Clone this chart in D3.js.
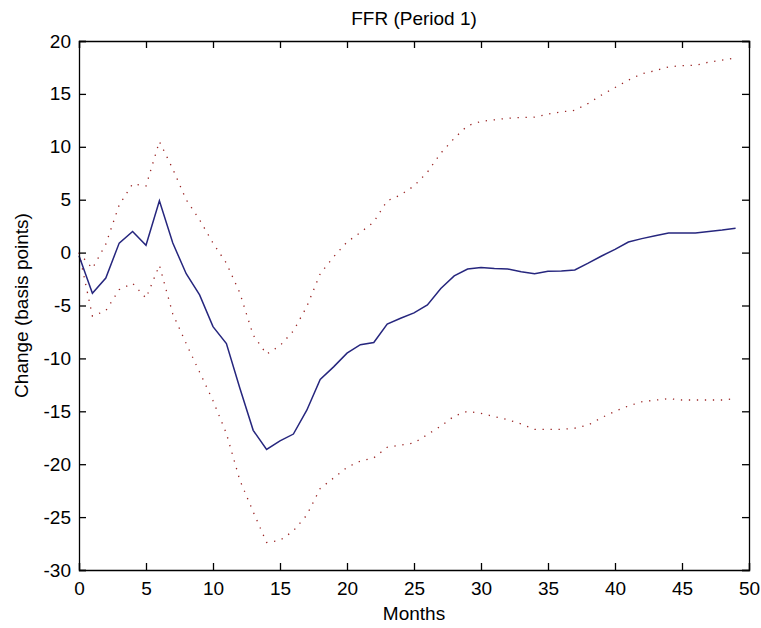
<!DOCTYPE html>
<html>
<head>
<meta charset="utf-8">
<script src="https://cdn.jsdelivr.net/npm/d3@7"></script>
<style>
  body { margin: 0; background: #fff; }
  svg text { font-family: "Liberation Sans", Arial, sans-serif; fill: #000; }
</style>
</head>
<body>
<div id="chart"></div>
<script>
// FFR impulse response, period 1

var months = d3.range(0, 50);

var response = [-0.3, -3.85, -2.4, 0.9, 2.0, 0.7, 4.9, 0.9, -2.0, -4.0,
    -7.0, -8.6, -12.8, -16.8, -18.6, -17.8, -17.15, -14.9, -12.0, -10.8,
    -9.5, -8.7, -8.5, -6.75, -6.2, -5.7, -4.95, -3.4, -2.2, -1.55,
    -1.4, -1.5, -1.55, -1.8, -2.0, -1.77, -1.74, -1.64, -1.0, -0.32,
    0.3, 1.0, 1.32, 1.6, 1.85, 1.85, 1.85, 2.0, 2.13, 2.3];

var upperBand = [0.0, -1.5, 0.8, 4.5, 6.5, 6.3, 10.5, 7.9, 5.0, 3.1,
    0.9, -1.0, -3.8, -7.8, -9.6, -8.8, -7.4, -5.1, -2.0, -0.4,
    1.0, 1.9, 2.9, 4.9, 5.45, 6.3, 7.6, 9.4, 10.8, 12.0,
    12.4, 12.55, 12.7, 12.78, 12.8, 13.1, 13.3, 13.45, 14.1, 14.9,
    15.6, 16.3, 16.9, 17.2, 17.55, 17.67, 17.7, 18.0, 18.2, 18.4];

var lowerBand = [0.0, -6.0, -5.5, -3.5, -2.9, -4.3, -1.2, -5.8, -8.6, -11.3,
    -14.0, -17.1, -21.5, -24.5, -27.4, -27.2, -26.3, -24.8, -22.3, -21.3,
    -20.3, -19.7, -19.4, -18.4, -18.2, -18.0, -17.2, -16.4, -15.45, -15.0,
    -15.2, -15.5, -15.8, -16.2, -16.7, -16.7, -16.7, -16.6, -16.3, -15.6,
    -15.0, -14.5, -14.1, -13.95, -13.8, -13.93, -13.93, -13.93, -13.93, -13.8];

var xTicks = [0, 5, 10, 15, 20, 25, 30, 35, 40, 45, 50];
var yTicks = [-30, -25, -20, -15, -10, -5, 0, 5, 10, 15, 20];

var margin = {top: 41, right: 12, bottom: 58, left: 79},
    width = 761 - margin.left - margin.right,
    height = 628 - margin.top - margin.bottom;

var svg = d3.select("#chart").append("svg")
    .attr("width", 761)
    .attr("height", 628);

var g = svg.append("g")
    .attr("transform", "translate(" + margin.left + "," + margin.top + ")");

var x = d3.scaleLinear().domain([0, 50]).range([0, width]);
var y = d3.scaleLinear().domain([-30, 20]).range([height, 0]);

var line = function(vals) {
    return d3.line()
        .x(function(d, i) { return x(months[i]); })
        .y(function(d) { return y(d); })(vals);
};

// plain hyphen for negatives, like matlab
var fmt = function(d) { return String(d); };

// bands
[upperBand, lowerBand].forEach(function(band) {
    g.append("path")
        .attr("d", line(band))
        .attr("fill", "none")
        .attr("stroke", "#9a2424")
        .attr("stroke-width", 1.3)
        .attr("stroke-dasharray", "1.3,6.7");
});

// response
g.append("path")
    .attr("d", line(response))
    .attr("fill", "none")
    .attr("stroke", "#26267e")
    .attr("stroke-width", 1.5);

// axes, ticks inward on all sides
var tickLen = 7;
g.append("g")
    .attr("transform", "translate(0," + height + ")")
    .call(d3.axisBottom(x).tickValues(xTicks).tickSize(-tickLen).tickPadding(12).tickFormat(fmt));
g.append("g")
    .call(d3.axisTop(x).tickValues(xTicks).tickSize(-tickLen).tickFormat(""));
g.append("g")
    .call(d3.axisLeft(y).tickValues(yTicks).tickSize(-tickLen).tickPadding(8).tickFormat(fmt));
g.append("g")
    .attr("transform", "translate(" + width + ",0)")
    .call(d3.axisRight(y).tickValues(yTicks).tickSize(-tickLen).tickFormat(""));

g.selectAll(".domain").attr("stroke", "#000").attr("stroke-width", 1.3);
g.selectAll(".tick line").attr("stroke", "#000").attr("stroke-width", 1.3);
g.selectAll(".tick text").style("font-size", "19px").attr("fill", "#000");

// texts
svg.append("text")
    .attr("x", margin.left + width / 2)
    .attr("y", 25)
    .attr("text-anchor", "middle")
    .style("font-size", "19px")
    .text("FFR (Period 1)");

svg.append("text")
    .attr("x", margin.left + width / 2)
    .attr("y", 620)
    .attr("text-anchor", "middle")
    .style("font-size", "19px")
    .text("Months");

svg.append("text")
    .attr("transform", "translate(28," + (margin.top + height / 2) + ") rotate(-90)")
    .attr("text-anchor", "middle")
    .style("font-size", "19px")
    .text("Change (basis points)");
</script>
</body>
</html>
